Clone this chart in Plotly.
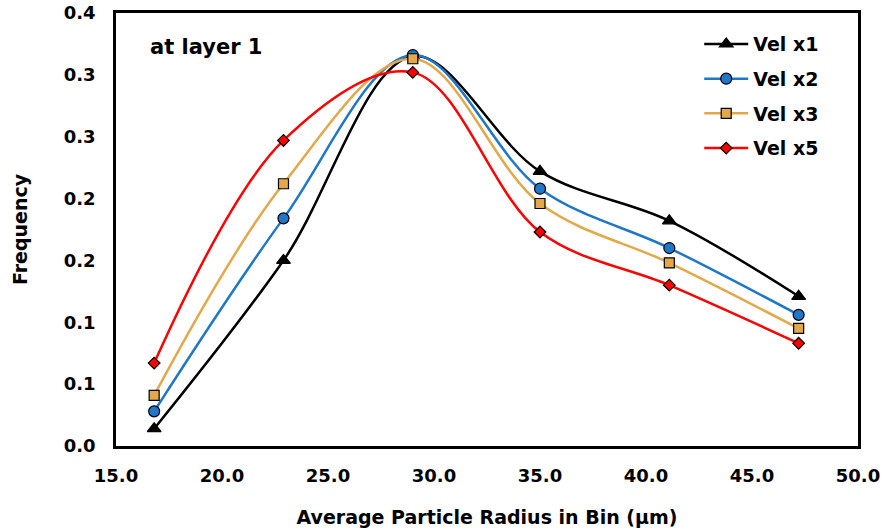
import plotly.graph_objects as go

# Data
radius = [16.8, 22.9, 29.0, 35.0, 41.1, 47.2]
vel_x1 = [0.014, 0.150, 0.315, 0.222, 0.182, 0.121]
vel_x2 = [0.028, 0.184, 0.316, 0.208, 0.160, 0.106]
vel_x3 = [0.041, 0.212, 0.313, 0.196, 0.148, 0.095]
vel_x5 = [0.067, 0.247, 0.302, 0.173, 0.130, 0.083]
series_names = ["Vel x1", "Vel x2", "Vel x3", "Vel x5"]

x_tickvals = [15, 20, 25, 30, 35, 40, 45, 50]
x_ticktext = ["15.0", "20.0", "25.0", "30.0", "35.0", "40.0", "45.0", "50.0"]
y_tickvals = [0, 0.05, 0.10, 0.15, 0.20, 0.25, 0.30, 0.35]
y_ticktext = ["0.0", "0.1", "0.1", "0.2", "0.2", "0.3", "0.3", "0.4"]

FONT = "DejaVu Sans, Verdana, sans-serif"

styles = [
    dict(color="#000000", symbol="triangle-up", size=12),
    dict(color="#1F77C8", symbol="circle", size=11),
    dict(color="#E4A84C", symbol="square", size=10),
    dict(color="#FF0000", symbol="diamond", size=9),
]

fig = go.Figure()
for name, ys, st in zip(series_names, [vel_x1, vel_x2, vel_x3, vel_x5], styles):
    fig.add_trace(go.Scatter(
        x=radius, y=ys, name=name, mode="lines+markers",
        legendgroup=name,
        line=dict(color=st["color"], width=2.5, shape="spline", smoothing=1.0),
        marker=dict(symbol=st["symbol"], size=st["size"], color=st["color"],
                    line=dict(color="#000000", width=1.2)),
    ))

fig.add_annotation(
    x=0.043, y=0.921, xref="paper", yref="paper", xanchor="left", yanchor="middle",
    text="<b>at layer 1</b>", showarrow=False,
    font=dict(family=FONT, size=21, color="#000000"),
)

fig.update_layout(
    width=889, height=531,
    margin=dict(l=116, r=31, t=13, b=85),
    paper_bgcolor="white", plot_bgcolor="white",
    font=dict(family=FONT, color="#000000"),
    showlegend=True,
    legend=dict(
        x=0.786, y=0.972, xanchor="left", yanchor="top",
        font=dict(family=FONT, size=19, color="#000000", weight="bold"),
        tracegroupgap=7, itemwidth=44, bgcolor="rgba(0,0,0,0)",
    ),
    xaxis=dict(
        range=[15, 50], tickvals=x_tickvals, ticktext=x_ticktext,
        showgrid=False, zeroline=False, showline=True, linecolor="black",
        linewidth=2.5, mirror=True, ticks="", automargin=False,
        ticklabelstandoff=12, ticklabeloverflow="allow",
        tickfont=dict(family=FONT, size=18, weight="bold"),
        title=dict(text="<b>Average Particle Radius in Bin (µm)</b>",
                   font=dict(family=FONT, size=19), standoff=26),
    ),
    yaxis=dict(
        range=[0, 0.35], tickvals=y_tickvals, ticktext=y_ticktext,
        showgrid=False, zeroline=False, showline=True, linecolor="black",
        linewidth=2.5, mirror=True, ticks="", automargin=False,
        ticklabelstandoff=14, ticklabeloverflow="allow",
        tickfont=dict(family=FONT, size=18, weight="bold"),
        title=dict(text="<b>Frequency</b>", font=dict(family=FONT, size=19),
                   standoff=32),
    ),
)

fig.write_html("out.html", config={"displayModeBar": False},
               post_script="document.body.style.margin='0';")
